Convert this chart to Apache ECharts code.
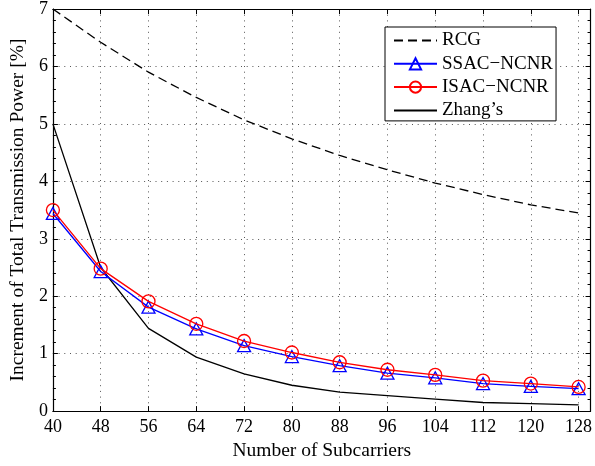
<!DOCTYPE html>
<html>
<head>
<meta charset="utf-8">
<script src="https://cdn.jsdelivr.net/npm/echarts@6/dist/echarts.min.js"></script>
<style>
  html, body { margin: 0; padding: 0; background: #fff; }
  #chart { width: 595px; height: 466px; }
</style>
</head>
<body>
<div id="chart"></div>
<script>
// Number of subcarriers on the x axis
const subcarriers = [40, 48, 56, 64, 72, 80, 88, 96, 104, 112, 120, 128];

// Increment of total transmission power [%] per scheme
const rcg      = [7.00, 6.42, 5.90, 5.46, 5.07, 4.74, 4.45, 4.20, 3.97, 3.77, 3.59, 3.45];
const ssacNcnr = [3.44, 2.43, 1.81, 1.43, 1.14, 0.95, 0.79, 0.66, 0.58, 0.48, 0.43, 0.39];
const isacNcnr = [3.50, 2.48, 1.91, 1.52, 1.22, 1.02, 0.85, 0.72, 0.63, 0.53, 0.48, 0.42];
const zhangs   = [5.00, 2.50, 1.44, 0.94, 0.65, 0.45, 0.33, 0.27, 0.21, 0.15, 0.13, 0.11];

const seriesNames = ['RCG', 'SSAC\u2212NCNR', 'ISAC\u2212NCNR', 'Zhang\u2019s'];

const FONT = 'Liberation Serif';

const pairs = (ys) => subcarriers.map((x, i) => [x, ys[i]]);

const chart = echarts.init(document.getElementById('chart'), null, { renderer: 'canvas' });

const frameAxis = {
  axisLine: { show: true, onZero: false, lineStyle: { color: '#000', width: 1.2 } },
  axisTick: { show: true, inside: true, length: 5, lineStyle: { color: '#000', width: 1 } },
  axisLabel: { show: false },
  splitLine: { show: false }
};

// plain-line legend entries carry no marker
const noMarker = { color: 'rgba(0,0,0,0)', borderWidth: 0, opacity: 0 };

chart.setOption({
  backgroundColor: '#fff',
  animation: false,
  grid: { left: 48, right: 0, top: 7, bottom: 43.7, containLabel: false },
  legend: {
    orient: 'vertical',
    left: 385,
    top: 27,
    padding: [4, 3, 1, 8],
    itemWidth: 43,
    itemHeight: 14,
    itemGap: 4.3,
    borderColor: '#000',
    borderWidth: 1,
    backgroundColor: '#fff',
    textStyle: { fontFamily: FONT, fontSize: 19, color: '#000', lineHeight: 19 },
    data: [
      { name: seriesNames[0], itemStyle: noMarker },
      { name: seriesNames[1] },
      { name: seriesNames[2] },
      { name: seriesNames[3], itemStyle: noMarker }
    ]
  },
  xAxis: [
    {
      type: 'value',
      min: 40,
      max: 130,
      interval: 8,
      position: 'bottom',
      name: 'Number of Subcarriers',
      nameLocation: 'middle',
      nameGap: 22,
      nameTextStyle: { fontFamily: FONT, fontSize: 19.5, color: '#000' },
      axisLine: { show: true, onZero: false, lineStyle: { color: '#000', width: 1.2 } },
      axisTick: { show: true, inside: true, length: 5, lineStyle: { color: '#000', width: 1 } },
      axisLabel: {
        fontFamily: FONT, fontSize: 18, color: '#000', margin: 7,
        formatter: (v) => (v > 128 ? '' : String(v))
      },
      splitLine: { show: true, lineStyle: { color: '#555', width: 1, type: [1, 4.7] } }
    },
    Object.assign({ type: 'value', min: 40, max: 130, interval: 8, position: 'top' }, frameAxis)
  ],
  yAxis: [
    {
      type: 'value',
      min: 0,
      max: 7,
      interval: 1,
      position: 'left',
      name: 'Increment of Total Transmission Power [%]',
      nameLocation: 'middle',
      nameRotate: 90,
      nameGap: 20,
      nameTextStyle: { fontFamily: FONT, fontSize: 19.5, color: '#000' },
      axisLine: { show: true, onZero: false, lineStyle: { color: '#000', width: 1.2 } },
      axisTick: { show: true, inside: true, length: 5, lineStyle: { color: '#000', width: 1 } },
      minorTick: { show: true, splitNumber: 5, length: 3, lineStyle: { color: '#000', width: 1 } },
      axisLabel: { fontFamily: FONT, fontSize: 18, color: '#000', margin: 5 },
      splitLine: { show: true, lineStyle: { color: '#555', width: 1, type: [1, 4.7] } }
    },
    Object.assign({
      type: 'value', min: 0, max: 7, interval: 1, position: 'right',
      minorTick: { show: true, splitNumber: 5, length: 3, lineStyle: { color: '#000', width: 1 } }
    }, frameAxis)
  ],
  series: [
    {
      name: seriesNames[0],
      type: 'line',
      data: pairs(rcg),
      symbol: 'none',
      lineStyle: { color: '#000', width: 1.3, type: [9, 5] },
      itemStyle: { color: '#000' },
      z: 3
    },
    {
      name: seriesNames[1],
      type: 'line',
      data: pairs(ssacNcnr),
      symbol: 'triangle',
      symbolSize: [13, 12],
      showAllSymbol: true,
      lineStyle: { color: '#0000ff', width: 1.3 },
      itemStyle: { color: 'rgba(0,0,0,0)', borderColor: '#0000ff', borderWidth: 1.3 },
      z: 4
    },
    {
      name: seriesNames[2],
      type: 'line',
      data: pairs(isacNcnr),
      symbol: 'circle',
      symbolSize: 13,
      showAllSymbol: true,
      lineStyle: { color: '#ff0000', width: 1.3 },
      itemStyle: { color: 'rgba(0,0,0,0)', borderColor: '#ff0000', borderWidth: 1.3 },
      z: 5
    },
    {
      name: seriesNames[3],
      type: 'line',
      data: pairs(zhangs),
      symbol: 'none',
      lineStyle: { color: '#000', width: 1.3 },
      itemStyle: { color: '#000' },
      z: 3
    }
  ]
});
</script>
</body>
</html>
